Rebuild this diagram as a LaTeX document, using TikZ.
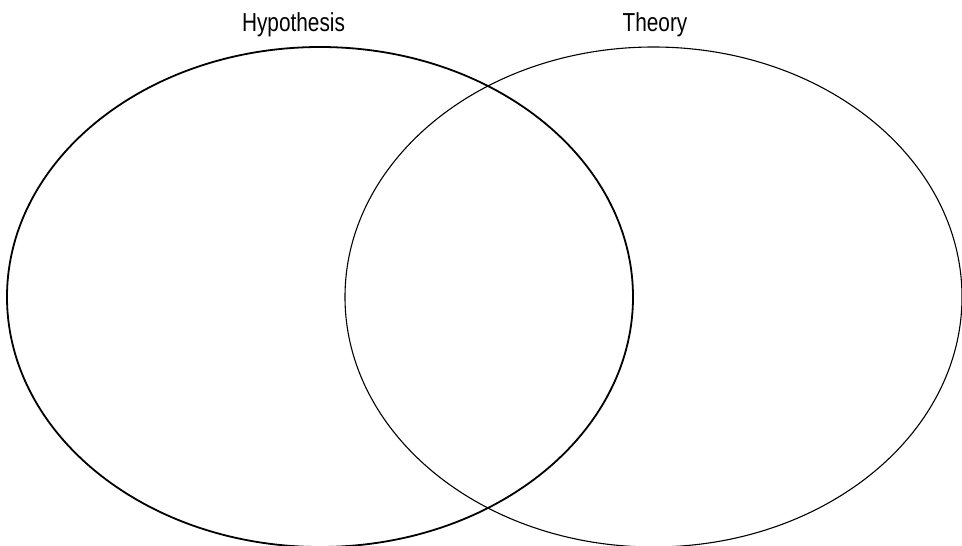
\documentclass[tikz,border=0pt]{standalone}
\usepackage{fontspec}
\setmainfont[FakeStretch=0.8]{Liberation Sans}
\usetikzlibrary{shapes.geometric, positioning}

\begin{document}
\begin{tikzpicture}[
    x=1pt, y=-1pt,
    every node/.style={font=\fontsize{26}{30}\selectfont},
    set/.style={ellipse, draw=black, inner sep=0pt,
                minimum width=#1, minimum height=500pt},
    lbl/.style={anchor=base, inner sep=0pt}
  ]

  \useasboundingbox (0,0) rectangle (962,546);

  \node[set=626pt, line width=1.8pt] (hyp) at (320,297) {};
  \node[set=617pt, line width=1.1pt] (theo) at (653.5,297) {};

  %% Labels
  \node[lbl] (hyplbl)  at (293.5,31.7) {Hypothesis};
  \node[lbl] (theolbl) at (655,31.7)   {Theory};

\end{tikzpicture}
\end{document}
